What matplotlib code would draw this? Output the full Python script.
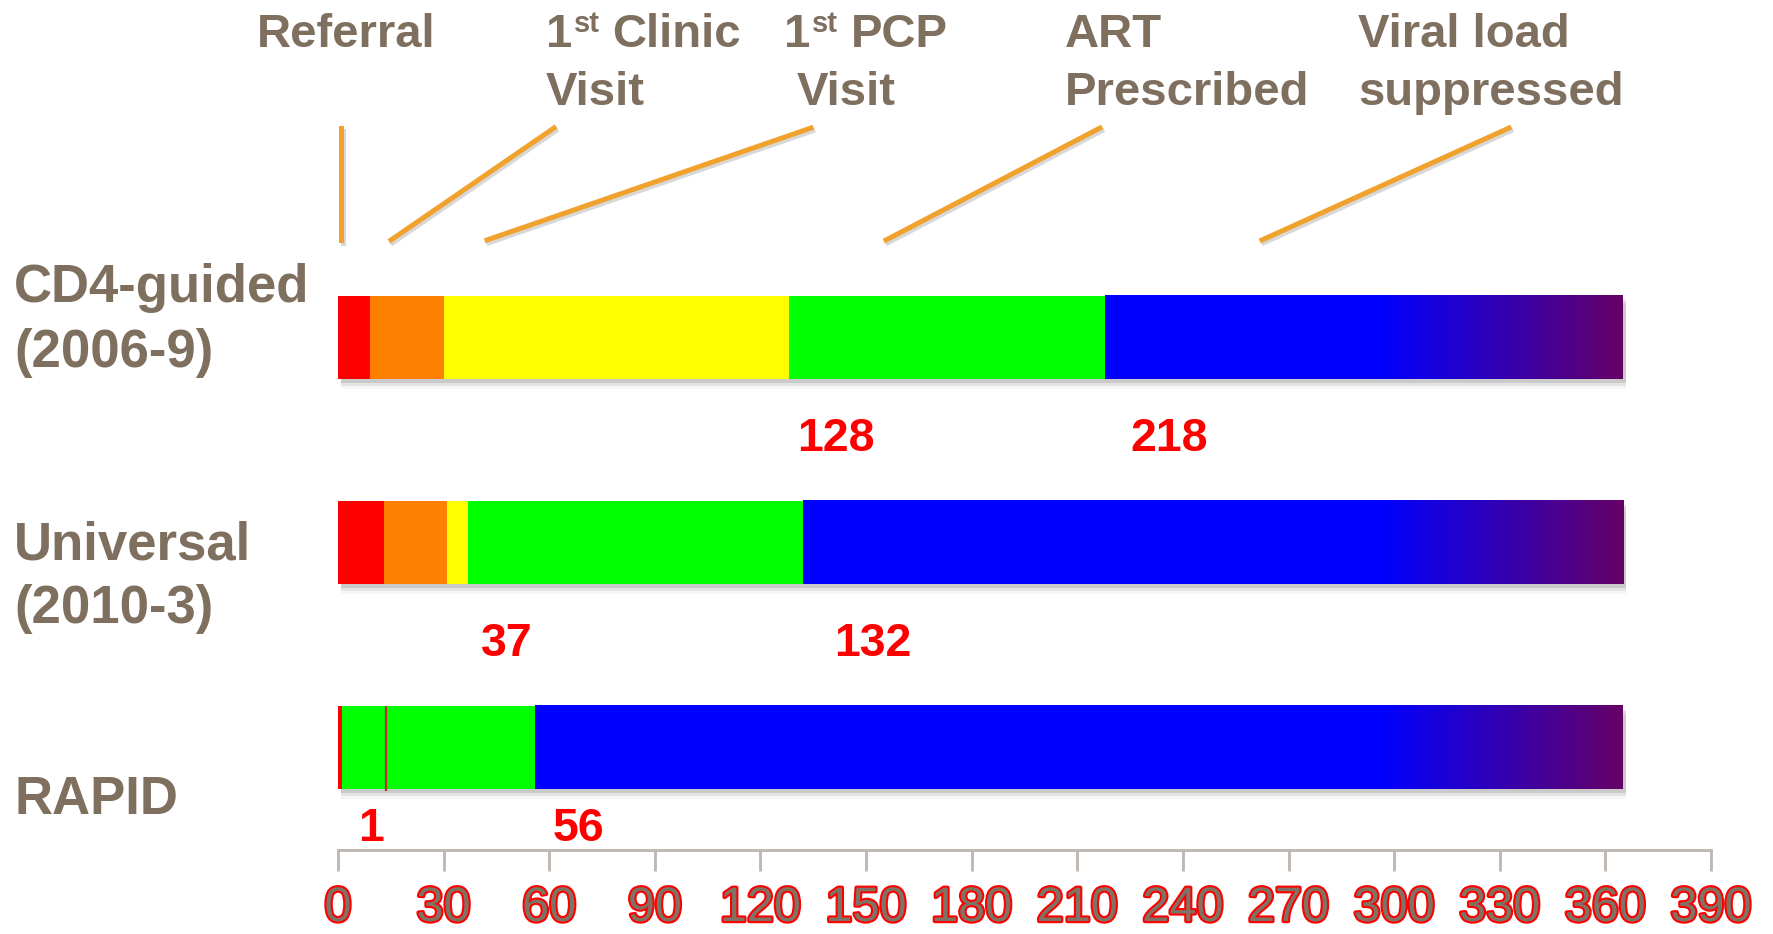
import numpy as np
import matplotlib.pyplot as plt
import matplotlib.patheffects as pe
from matplotlib import font_manager
from matplotlib.colors import LinearSegmentedColormap
from matplotlib.lines import Line2D

# days from referral at which each stage is reached
groups = ['CD4-guided\n(2006-9)', 'Universal\n(2010-3)', 'RAPID']
stages = ['Referral', '1st Clinic\nVisit', '1st PCP\nVisit',
          'ART\nPrescribed', 'Viral load\nsuppressed']
cd4_days = [0, 9, 30, 128, 218]
universal_days = [0, 13, 31, 37, 132]
rapid_days = [0, 1, 1, 1, 56]
rapid_marker = 13.5
follow_up = 365
ticks = list(range(0, 391, 30))

seg_colors = ['#FF0000', '#FF8000', '#FFFF00', '#00FF00']
fade = LinearSegmentedColormap.from_list('fade', ['#0000FF', '#660066'])
fade_start = 296

text_col = '#7F6F5E'
line_col = '#F0A22C'
axis_col = '#BDB6AE'

plt.rcParams['font.family'] = ['Liberation Sans', 'DejaVu Sans']

names = {f.name for f in font_manager.fontManager.ttflist}
if 'Liberation Sans Narrow' in names:
    tick_font, tick_size = 'Liberation Sans Narrow', 41
else:
    tick_font, tick_size = 'Liberation Sans', 35

W, H = 1773, 934
fig = plt.figure(figsize=(W / 100, H / 100), dpi=100)
ax = fig.add_axes([338 / W, 1 - 850 / H, (1711 - 338) / W, (850 - 30) / H])

bar_h = 0.405
all_days = [cd4_days, universal_days, rapid_days]
for row, days in enumerate(all_days):
    # soft drop shadow
    for dy, a in [(0.02, 0.25), (0.035, 0.15), (0.05, 0.07)]:
        ax.barh(row + dy, follow_up, left=0.8, height=bar_h, color='#808080',
                alpha=a, lw=0, zorder=1)
    edges = days + [follow_up]
    for k in range(4):
        if edges[k + 1] > edges[k]:
            ax.barh(row, edges[k + 1] - edges[k], left=edges[k], height=bar_h,
                    color=seg_colors[k], lw=0, zorder=3)
    left, right = edges[4], edges[5]
    xs = np.linspace(left, right, 800)
    t = np.clip((xs - fade_start) / (right - fade_start), 0, 1)
    ax.imshow(t[None, :], cmap=fade, vmin=0, vmax=1, aspect='auto',
              extent=(left, right, row + bar_h / 2, row - bar_h / 2),
              interpolation='bilinear', zorder=3)

ax.vlines(rapid_marker, 2 - bar_h / 2, 2 + bar_h / 2 + 0.01, color='#C82828',
          lw=1.6, zorder=4)

# ART and viral-load day labels under each bar
label_dx = [[2.5, 7], [3.5, 9], [4.7, 5]]
label_dy = [0.497, 0.497, 0.397]
for row, days in enumerate(all_days):
    for j, idx in enumerate([3, 4]):
        ax.text(days[idx] + label_dx[row][j], row + label_dy[row], str(days[idx]),
                color='#FF0000', fontsize=33.5, fontweight='bold',
                ha='left', va='center', zorder=5)

ax.set_xlim(0, 390)
ax.set_ylim(2.5, -1.5)
ax.set_xticks(ticks)
ax.set_xticklabels([str(v) for v in ticks], fontfamily=tick_font,
                   fontsize=tick_size, color='#7F7366')
for lbl in ax.get_xticklabels():
    lbl.set_path_effects([pe.withStroke(linewidth=3, foreground='#FF0000')])
ax.tick_params(axis='x', length=15, width=2, color=axis_col, pad=11)
ax.set_yticks([])
for side in ['top', 'right', 'left']:
    ax.spines[side].set_visible(False)
ax.spines['bottom'].set_color(axis_col)
ax.spines['bottom'].set_linewidth(2)

# group names on the left
row_text_y = [(302, 367), (559, 623), (814,)]
for name, ys in zip(groups, row_text_y):
    for line, y in zip(name.split('\n'), ys):
        fig.text(14 / W, 1 - y / H, line, color=text_col, fontsize=38,
                 fontweight='bold', ha='left', va='baseline')

# stage headers; "1st" gets a small raised "st"
renderer = fig.canvas.get_renderer()
head = dict(color=text_col, fontweight='bold', ha='left', va='baseline')


def header_line(x, y, line):
    if line.startswith('1st '):
        one = fig.text(x / W, 1 - y / H, '1', fontsize=34, **head)
        x1 = one.get_window_extent(renderer).x1
        sup = fig.text((x1 + 2) / W, 1 - (y - 15) / H, 'st', fontsize=21, **head)
        x2 = sup.get_window_extent(renderer).x1
        fig.text((x2 + 12) / W, 1 - y / H, line[4:], fontsize=34, **head)
    else:
        fig.text(x / W, 1 - y / H, line, fontsize=34, **head)


header_x = [(257,), (546, 546), (784, 797), (1065, 1065), (1358, 1358)]
for name, xs in zip(stages, header_x):
    for line, x, y in zip(name.split('\n'), xs, (47, 105)):
        header_line(x, y, line)

leaders = [((341, 240), (341, 128)), ((391, 240), (554, 128)),
           ((487, 240), (811, 128)), ((886, 240), (1100, 128)),
           ((1262, 240), (1509, 128))]
for (x1, y1), (x2, y2) in leaders:
    fig.add_artist(Line2D([x1 / W + 0.001, x2 / W + 0.001],
                          [1 - y1 / H - 0.003, 1 - y2 / H - 0.003],
                          transform=fig.transFigure, color='#909090',
                          alpha=0.35, lw=3.6))
    fig.add_artist(Line2D([x1 / W, x2 / W], [1 - y1 / H, 1 - y2 / H],
                          transform=fig.transFigure, color=line_col, lw=3.6))

fig.savefig('out.png', dpi=100, facecolor='white')
